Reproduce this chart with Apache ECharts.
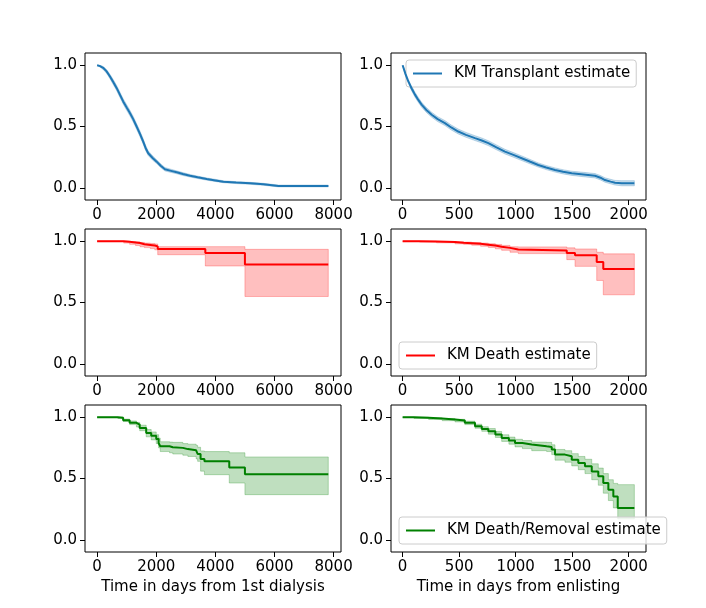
<!DOCTYPE html>
<html>
<head>
<meta charset="utf-8">
<script src="https://cdn.jsdelivr.net/npm/echarts@6/dist/echarts.min.js"></script>
<style>
  html, body { margin: 0; padding: 0; background: #fff; }
  #main { width: 706px; height: 608px; }
</style>
</head>
<body>
<div id="main"></div>
<script>
// KM Transplant, days from 1st dialysis
const transDialT = [0, 100, 203, 320, 430, 540, 658, 770, 881, 1000, 1109, 1220, 1336, 1450, 1559, 1640, 1729, 1870, 2014, 2150, 2295, 2500, 2692, 2900, 3143, 3400, 3709, 4000, 4271, 4700, 5177, 5627, 6136, 7820];
const transDialS = [1.0, 0.993, 0.979, 0.95, 0.91, 0.865, 0.815, 0.76, 0.705, 0.655, 0.61, 0.56, 0.5, 0.44, 0.377, 0.325, 0.282, 0.245, 0.213, 0.18, 0.151, 0.138, 0.126, 0.112, 0.098, 0.085, 0.071, 0.06, 0.049, 0.042, 0.036, 0.028, 0.014, 0.014];
const transDialLo = [1.0, 0.985, 0.966, 0.934, 0.892, 0.845, 0.794, 0.738, 0.683, 0.632, 0.587, 0.537, 0.477, 0.417, 0.355, 0.304, 0.263, 0.227, 0.197, 0.165, 0.137, 0.125, 0.114, 0.1, 0.087, 0.075, 0.062, 0.051, 0.041, 0.034, 0.028, 0.02, 0.007, 0.007];
const transDialHi = [1.0, 0.999, 0.99, 0.965, 0.927, 0.885, 0.836, 0.782, 0.727, 0.678, 0.633, 0.583, 0.523, 0.463, 0.399, 0.346, 0.301, 0.263, 0.229, 0.195, 0.165, 0.151, 0.138, 0.124, 0.109, 0.095, 0.08, 0.069, 0.057, 0.05, 0.044, 0.036, 0.022, 0.022];

// KM Transplant, days from enlisting
const transEnlT = [0, 25, 50, 80, 109, 140, 168, 210, 257, 310, 374, 430, 492, 560, 640, 700, 758, 830, 905, 980, 1053, 1130, 1200, 1270, 1348, 1420, 1496, 1600, 1702, 1750, 1790, 1840, 1879, 1938, 2050];
const transEnlS = [1.0, 0.93, 0.869, 0.81, 0.76, 0.715, 0.678, 0.635, 0.596, 0.56, 0.528, 0.492, 0.459, 0.432, 0.405, 0.386, 0.364, 0.33, 0.295, 0.268, 0.241, 0.212, 0.186, 0.165, 0.145, 0.13, 0.118, 0.108, 0.098, 0.082, 0.063, 0.05, 0.041, 0.036, 0.036];
const transEnlLo = [1.0, 0.915, 0.85, 0.79, 0.74, 0.695, 0.658, 0.615, 0.576, 0.54, 0.508, 0.472, 0.439, 0.412, 0.385, 0.366, 0.344, 0.31, 0.276, 0.249, 0.222, 0.194, 0.169, 0.148, 0.128, 0.113, 0.101, 0.09, 0.08, 0.064, 0.045, 0.032, 0.022, 0.016, 0.016];
const transEnlHi = [1.0, 0.945, 0.888, 0.83, 0.78, 0.735, 0.698, 0.655, 0.616, 0.58, 0.548, 0.512, 0.479, 0.452, 0.425, 0.406, 0.384, 0.35, 0.314, 0.287, 0.26, 0.23, 0.203, 0.182, 0.162, 0.147, 0.135, 0.126, 0.116, 0.1, 0.081, 0.069, 0.06, 0.058, 0.058];

// KM Death, days from 1st dialysis
const deathDialT = [0, 900, 1100, 1300, 1450, 1600, 1800, 1950, 2050, 3660, 5000, 7820];
const deathDialS = [1.0, 0.995, 0.99, 0.985, 0.975, 0.97, 0.965, 0.958, 0.937, 0.904, 0.811, 0.811];
const deathDialLo = [1.0, 0.985, 0.975, 0.965, 0.955, 0.948, 0.94, 0.93, 0.89, 0.798, 0.549, 0.549];
const deathDialHi = [1.0, 1.0, 0.998, 0.995, 0.99, 0.985, 0.982, 0.978, 0.956, 0.956, 0.934, 0.934];

// KM Death, days from enlisting
const deathEnlT = [0, 150, 300, 463, 540, 611, 690, 758, 820, 876, 950, 1023, 1452, 1525, 1717, 1775, 2050];
const deathEnlS = [1.0, 0.997, 0.993, 0.987, 0.984, 0.979, 0.972, 0.965, 0.956, 0.946, 0.932, 0.924, 0.905, 0.885, 0.831, 0.774, 0.774];
const deathEnlLo = [1.0, 0.993, 0.987, 0.979, 0.975, 0.968, 0.959, 0.95, 0.938, 0.926, 0.91, 0.899, 0.85, 0.795, 0.68, 0.563, 0.563];
const deathEnlHi = [1.0, 1.0, 0.998, 0.995, 0.993, 0.99, 0.985, 0.98, 0.974, 0.966, 0.955, 0.954, 0.946, 0.937, 0.91, 0.897, 0.897];

// KM Death/Removal, days from 1st dialysis
const remDialT = [0, 700, 880, 1100, 1330, 1440, 1660, 1830, 2000, 2080, 2135, 2450, 2560, 2900, 3070, 3350, 3400, 3500, 3630, 4470, 5000, 7820];
const remDialS = [1.0, 0.995, 0.975, 0.955, 0.94, 0.913, 0.872, 0.85, 0.823, 0.79, 0.763, 0.755, 0.75, 0.74, 0.73, 0.72, 0.70, 0.66, 0.64, 0.59, 0.534, 0.534];
const remDialLo = [1.0, 0.99, 0.965, 0.94, 0.92, 0.89, 0.84, 0.815, 0.785, 0.75, 0.72, 0.71, 0.70, 0.69, 0.68, 0.66, 0.64, 0.56, 0.531, 0.463, 0.368, 0.368];
const remDialHi = [1.0, 1.0, 0.985, 0.97, 0.958, 0.935, 0.9, 0.88, 0.858, 0.83, 0.8, 0.797, 0.795, 0.785, 0.78, 0.77, 0.755, 0.725, 0.72, 0.71, 0.676, 0.676];

// KM Death/Removal, days from enlisting
const remEnlT = [0, 100, 230, 350, 463, 550, 640, 700, 758, 820, 876, 940, 994, 1060, 1142, 1274, 1319, 1348, 1436, 1496, 1554, 1613, 1673, 1731, 1775, 1820, 1864, 1903, 2050];
const remEnlS = [1.0, 0.995, 0.989, 0.982, 0.973, 0.955, 0.927, 0.905, 0.886, 0.86, 0.831, 0.81, 0.79, 0.778, 0.763, 0.758, 0.736, 0.695, 0.681, 0.654, 0.627, 0.60, 0.558, 0.518, 0.463, 0.409, 0.354, 0.259, 0.259];
const remEnlLo = [1.0, 0.99, 0.982, 0.972, 0.962, 0.94, 0.91, 0.885, 0.862, 0.835, 0.803, 0.78, 0.758, 0.744, 0.727, 0.72, 0.695, 0.65, 0.633, 0.603, 0.572, 0.54, 0.49, 0.445, 0.38, 0.32, 0.26, 0.17, 0.17];
const remEnlHi = [1.0, 1.0, 0.995, 0.99, 0.983, 0.968, 0.943, 0.923, 0.908, 0.884, 0.857, 0.838, 0.82, 0.81, 0.797, 0.795, 0.775, 0.737, 0.727, 0.703, 0.68, 0.657, 0.62, 0.585, 0.54, 0.49, 0.46, 0.45, 0.45];

const dialTicks = [0, 2000, 4000, 6000, 8000];
const enlTicks = [0, 500, 1000, 1500, 2000];
const yTicks = [0, 0.5, 1.0];

const FONT = 'DejaVu Sans';
const FS = 15;

// step: true for the coarse curves, plain polyline for the dense transplant ones
const panels = [
  { name: 'KM Transplant estimate', t: transDialT, s: transDialS, lo: transDialLo, hi: transDialHi, color: '#1f77b4', band: 'rgba(31,119,180,0.25)', dial: true, step: false },
  { name: 'KM Transplant estimate', t: transEnlT, s: transEnlS, lo: transEnlLo, hi: transEnlHi, color: '#1f77b4', band: 'rgba(31,119,180,0.25)', dial: false, step: false },
  { name: 'KM Death estimate', t: deathDialT, s: deathDialS, lo: deathDialLo, hi: deathDialHi, color: '#ff0000', band: 'rgba(255,0,0,0.25)', dial: true, step: true },
  { name: 'KM Death estimate', t: deathEnlT, s: deathEnlS, lo: deathEnlLo, hi: deathEnlHi, color: '#ff0000', band: 'rgba(255,0,0,0.25)', dial: false, step: true },
  { name: 'KM Death/Removal estimate', t: remDialT, s: remDialS, lo: remDialLo, hi: remDialHi, color: '#008000', band: 'rgba(0,128,0,0.25)', dial: true, step: true },
  { name: 'KM Death/Removal estimate', t: remEnlT, s: remEnlS, lo: remEnlLo, hi: remEnlHi, color: '#008000', band: 'rgba(0,128,0,0.25)', dial: false, step: true }
];

const rowTop = [53, 229, 405];
const colLeft = [85, 391];
const colWidth = [256, 255];

const grids = [], xAxes = [], yAxes = [], series = [];

function bandRenderer(p) {
  return function (params, api) {
    const pts = [];
    const n = p.t.length;
    for (let j = 0; j < n; j++) {
      if (p.step && j > 0) pts.push(api.coord([p.t[j], p.hi[j - 1]]));
      pts.push(api.coord([p.t[j], p.hi[j]]));
    }
    for (let j = n - 1; j >= 0; j--) {
      pts.push(api.coord([p.t[j], p.lo[j]]));
      if (p.step && j > 0) pts.push(api.coord([p.t[j], p.lo[j - 1]]));
    }
    return {
      type: 'polygon',
      shape: { points: pts },
      style: { fill: p.band, stroke: p.band, lineWidth: 1 }
    };
  };
}

panels.forEach((p, i) => {
  const row = Math.floor(i / 2), col = i % 2;
  grids.push({
    left: colLeft[col], top: rowTop[row], width: colWidth[col], height: 147,
    show: true, borderColor: '#000', borderWidth: 1, backgroundColor: 'transparent'
  });
  const ticks = p.dial ? dialTicks : enlTicks;
  xAxes.push({
    type: 'value', gridIndex: i, position: 'bottom',
    min: p.dial ? -410 : -103, max: p.dial ? 8250 : 2153,
    axisLine: { show: false, onZero: false },
    splitLine: { show: false },
    axisTick: { show: true, inside: false, length: 5, customValues: ticks, lineStyle: { color: '#000', width: 1 } },
    axisLabel: { customValues: ticks, margin: 8, color: '#000', fontFamily: FONT, fontSize: FS,
      formatter: v => String(v) },
    name: row === 2 ? (p.dial ? 'Time in days from 1st dialysis' : 'Time in days from enlisting') : '',
    nameLocation: 'middle', nameGap: 28,
    nameTextStyle: { color: '#000', fontFamily: FONT, fontSize: FS }
  });
  yAxes.push({
    type: 'value', gridIndex: i, position: 'left', min: -0.1, max: 1.1,
    axisLine: { show: false, onZero: false },
    splitLine: { show: false },
    axisTick: { show: true, inside: false, length: 5, customValues: yTicks, lineStyle: { color: '#000', width: 1 } },
    axisLabel: { customValues: yTicks, margin: 8, color: '#000', fontFamily: FONT, fontSize: FS,
      formatter: v => v.toFixed(1) }
  });
  // confidence band
  series.push({
    type: 'custom', name: 'band' + i, xAxisIndex: i, yAxisIndex: i,
    silent: true, z: 1, clip: true,
    data: [[p.t[0], p.s[0]]],
    renderItem: bandRenderer(p)
  });
  series.push({
    type: 'line', name: p.name, xAxisIndex: i, yAxisIndex: i,
    step: p.step ? 'end' : false, symbol: 'none', showSymbol: false, z: 5,
    color: p.color,
    lineStyle: { color: p.color, width: 2 },
    data: p.t.map((x, j) => [x, p.s[j]])
  });
});

const legendBase = {
  orient: 'vertical',
  padding: [6, 6, 6, 7],
  icon: 'rect',
  itemWidth: 29, itemHeight: 2,
  backgroundColor: 'rgba(255,255,255,0.8)',
  borderColor: '#cccccc', borderWidth: 1, borderRadius: 3,
  textStyle: { color: '#000', fontFamily: FONT, fontSize: FS, padding: [0, 0, 0, 7] },
  selectedMode: false
};

const option = {
  animation: false,
  backgroundColor: '#fff',
  textStyle: { fontFamily: FONT },
  grid: grids,
  xAxis: xAxes,
  yAxis: yAxes,
  legend: [
    Object.assign({}, legendBase, { data: ['KM Transplant estimate'], left: 406, top: 60 }),
    Object.assign({}, legendBase, { data: ['KM Death estimate'], left: 399, top: 342 }),
    Object.assign({}, legendBase, { data: ['KM Death/Removal estimate'], left: 399, top: 517 })
  ],
  series: series
};

const chart = echarts.init(document.getElementById('main'), null, { renderer: 'canvas' });
chart.setOption(option);
window.addEventListener('resize', function () {
  chart.resize();
});
</script>
</body>
</html>
